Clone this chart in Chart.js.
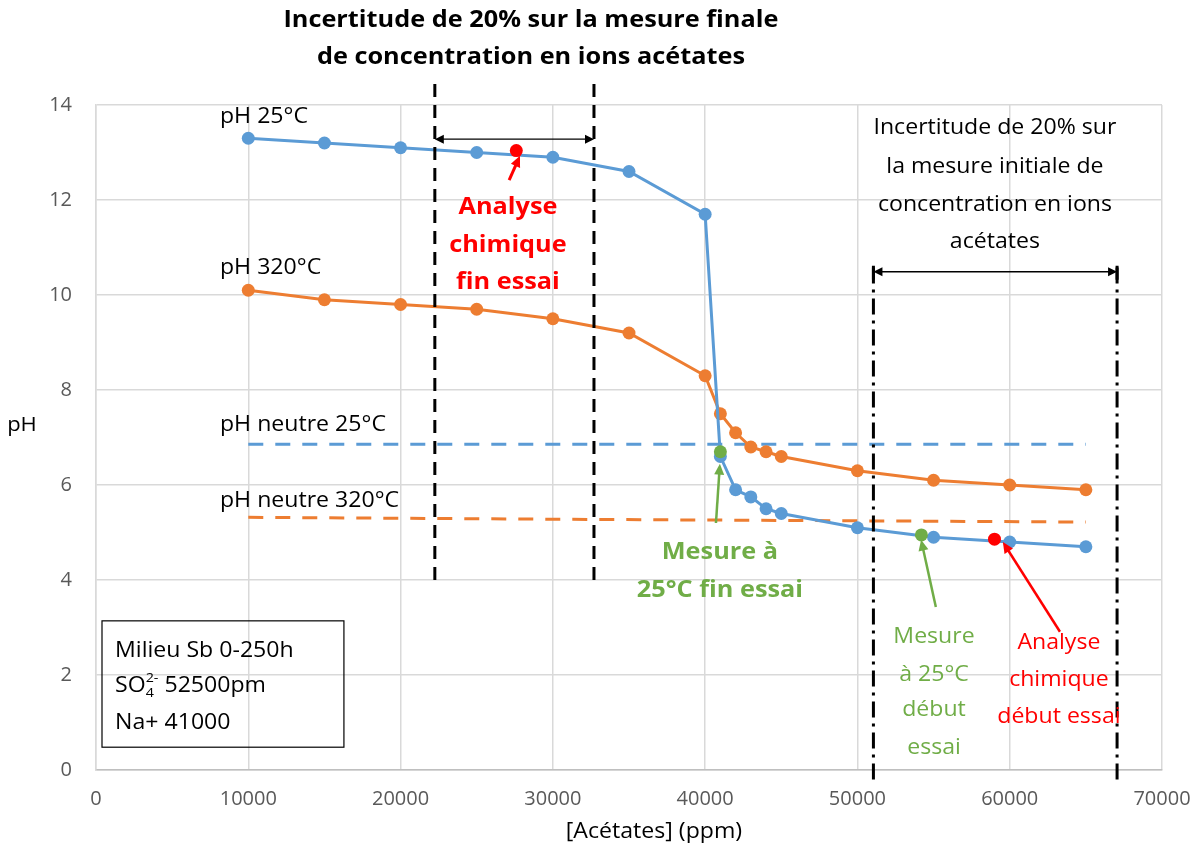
<!DOCTYPE html>
<html>
<head>
<meta charset="utf-8">
<script src="https://cdn.jsdelivr.net/npm/chart.js@4"></script>
<style>
  html, body { margin: 0; padding: 0; background: #fff; }
  #wrap { width: 1199px; height: 850px; position: relative; }
</style>
</head>
<body>
<div id="wrap"><canvas id="c" width="1199" height="850"></canvas></div>
<script>
// ---------- data ----------
const acetates = [10000, 15000, 20000, 25000, 30000, 35000, 40000, 41000, 42000, 43000, 44000, 45000, 50000, 55000, 60000, 65000];
const ph25     = [13.3, 13.2, 13.1, 13.0, 12.9, 12.6, 11.7, 6.6, 5.9, 5.75, 5.5, 5.4, 5.1, 4.9, 4.8, 4.7];
const ph320    = [10.1, 9.9, 9.8, 9.7, 9.5, 9.2, 8.3, 7.5, 7.1, 6.8, 6.7, 6.6, 6.3, 6.1, 6.0, 5.9];

const neutre25X  = [10000, 65000];
const neutre25   = [6.86, 6.86];
const neutre320X = [10000, 30000, 65000];
const neutre320  = [5.32, 5.28, 5.22];

const mesureX  = [41000, 54200];
const mesurePh = [6.7, 4.95];
const analyseX  = [27600, 59000];
const analysePh = [13.04, 4.86];

const finalBoundsX   = [22250, 32700];
const finalSpanY     = [4.0, 14.53];
const initialBoundsX = [51050, 67050];
const initialSpanY   = [-0.2, 10.7];

const xTicks = [0, 10000, 20000, 30000, 40000, 50000, 60000, 70000];
const yTicks = [0, 2, 4, 6, 8, 10, 12, 14];

// ---------- helpers ----------
const pts = (xs, ys) => xs.map((x, i) => ({x: x, y: ys[i]}));
const vlines = (xs, span) => {
  const out = [];
  xs.forEach((x, i) => {
    if (i > 0) out.push({x: x, y: null});
    out.push({x: x, y: span[0]});
    out.push({x: x, y: span[1]});
  });
  return out;
};

const FONT = "'Open Sans', 'DejaVu Sans', sans-serif";
const BLUE = '#5b9bd5', ORANGE = '#ed7d31', GREEN = '#70ad47', RED = '#ff0000';

// annotation layout (data coordinates)
const texts = [
  {t: 'Incertitude de 20% sur la mesure finale', x: 28560, y: 15.79, size: 23, bold: true, color: '#000', align: 'center'},
  {t: 'de concentration en ions acétates', x: 28560, y: 15.01, size: 23, bold: true, color: '#000', align: 'center'},
  {t: 'pH 25°C', x: 8140, y: 13.75, size: 21, color: '#000', align: 'left'},
  {t: 'pH 320°C', x: 8140, y: 10.57, size: 21, color: '#000', align: 'left'},
  {t: 'pH neutre 25°C', x: 8140, y: 7.26, size: 21, color: '#000', align: 'left'},
  {t: 'pH neutre 320°C', x: 8140, y: 5.66, size: 21, color: '#000', align: 'left'},
  {t: 'Incertitude de 20% sur', x: 59030, y: 13.52, size: 21, color: '#000', align: 'center'},
  {t: 'la mesure initiale de', x: 59030, y: 12.69, size: 21, color: '#000', align: 'center'},
  {t: 'concentration en ions', x: 59030, y: 11.89, size: 21, color: '#000', align: 'center'},
  {t: 'acétates', x: 59030, y: 11.12, size: 21, color: '#000', align: 'center'},
  {t: 'Analyse', x: 27050, y: 11.85, size: 23, bold: true, color: RED, align: 'center'},
  {t: 'chimique', x: 27050, y: 11.05, size: 23, bold: true, color: RED, align: 'center'},
  {t: 'fin essai', x: 27050, y: 10.27, size: 23, bold: true, color: RED, align: 'center'},
  {t: 'Mesure à', x: 40970, y: 4.59, size: 23, bold: true, color: GREEN, align: 'center'},
  {t: '25°C fin essai', x: 40970, y: 3.79, size: 23, bold: true, color: GREEN, align: 'center'},
  {t: 'Mesure', x: 55030, y: 2.80, size: 21, color: GREEN, align: 'center'},
  {t: 'à 25°C', x: 55030, y: 2.00, size: 21, color: GREEN, align: 'center'},
  {t: 'début', x: 55030, y: 1.26, size: 21, color: GREEN, align: 'center'},
  {t: 'essai', x: 55030, y: 0.46, size: 21, color: GREEN, align: 'center'},
  {t: 'Analyse', x: 63230, y: 2.67, size: 21, color: RED, align: 'center'},
  {t: 'chimique', x: 63230, y: 1.89, size: 21, color: RED, align: 'center'},
  {t: 'début essai', x: 63230, y: 1.12, size: 21, color: RED, align: 'center'},
  {t: 'Milieu Sb 0-250h', x: 1250, y: 2.50, size: 21, color: '#000', align: 'left'},
  {t: 'Na+ 41000', x: 1250, y: 0.99, size: 21, color: '#000', align: 'left'},
  {t: 'pH', x: -4860, y: 7.26, size: 20, color: '#000', align: 'center'},
  {t: '[Acétates] (ppm)', x: 36640, y: -1.31, size: 21, color: '#000', align: 'center'}
];
const boxCorners = {x0: 394, y0: 3.14, x1: 16280, y1: 0.48};
const pointerArrows = [
  {from: [27130, 12.42], to: [27840, 12.93], color: RED, w: 3},
  {from: [40710, 5.20], to: [40970, 6.45], color: GREEN, w: 2.5},
  {from: [55150, 3.43], to: [54180, 4.85], color: GREEN, w: 2.5},
  {from: [63300, 2.91], to: [59550, 4.80], color: RED, w: 2.5}
];
const spanArrows = [
  {x0: finalBoundsX[0], x1: finalBoundsX[1], y: 13.28, bars: false},
  {x0: initialBoundsX[0], x1: initialBoundsX[1], y: 10.49, bars: true}
];

const SX = 1.1;
function drawText(ctx, o, px, py) {
  ctx.save();
  ctx.font = (o.bold ? 'bold ' : '') + o.size + 'px ' + FONT;
  ctx.fillStyle = o.color;
  ctx.textAlign = o.align;
  ctx.textBaseline = 'middle';
  ctx.translate(px, py);
  ctx.scale(o.sx || SX, 1);
  ctx.fillText(o.t, 0, 0);
  ctx.restore();
}
function arrowHead(ctx, x0, y0, x1, y1, len, wid, color) {
  const a = Math.atan2(y1 - y0, x1 - x0);
  ctx.save();
  ctx.fillStyle = color;
  ctx.beginPath();
  ctx.moveTo(x1, y1);
  ctx.lineTo(x1 - len * Math.cos(a) + wid * Math.sin(a), y1 - len * Math.sin(a) - wid * Math.cos(a));
  ctx.lineTo(x1 - len * Math.cos(a) - wid * Math.sin(a), y1 - len * Math.sin(a) + wid * Math.cos(a));
  ctx.closePath();
  ctx.fill();
  ctx.restore();
}

const annot = {
  id: 'annot',
  afterDraw(chart) {
    const ctx = chart.ctx, xs = chart.scales.x, ys = chart.scales.y;
    const X = v => xs.getPixelForValue(v), Y = v => ys.getPixelForValue(v);
    // box
    ctx.save();
    ctx.strokeStyle = '#000'; ctx.lineWidth = 1.2;
    ctx.strokeRect(X(boxCorners.x0), Y(boxCorners.y0), X(boxCorners.x1) - X(boxCorners.x0), Y(boxCorners.y1) - Y(boxCorners.y0));
    ctx.restore();
    texts.forEach(o => drawText(ctx, o, X(o.x), Y(o.y)));
    // SO4 2- line
    {
      const px = X(1250), py = Y(1.77);
      ctx.save();
      ctx.fillStyle = '#000'; ctx.textBaseline = 'middle'; ctx.textAlign = 'left';
      ctx.translate(px, py); ctx.scale(SX, 1);
      ctx.font = '21px ' + FONT;
      ctx.fillText('SO', 0, 0);
      let w = ctx.measureText('SO').width;
      ctx.font = '13px ' + FONT;
      ctx.fillText('4', w, 7);
      ctx.fillText('2-', w, -8);
      w += ctx.measureText('2-').width;
      ctx.font = '21px ' + FONT;
      ctx.fillText(' 52500pm', w, 0);
      ctx.restore();
    }
    // pointer arrows
    pointerArrows.forEach(a => {
      const x0 = X(a.from[0]), y0 = Y(a.from[1]), x1 = X(a.to[0]), y1 = Y(a.to[1]);
      const ang = Math.atan2(y1 - y0, x1 - x0);
      ctx.save();
      ctx.strokeStyle = a.color; ctx.lineWidth = a.w;
      ctx.beginPath(); ctx.moveTo(x0, y0);
      ctx.lineTo(x1 - 8 * Math.cos(ang), y1 - 8 * Math.sin(ang)); ctx.stroke();
      ctx.restore();
      arrowHead(ctx, x0, y0, x1, y1, 11, 5, a.color);
    });
    // span arrows
    spanArrows.forEach(s => {
      const x0 = X(s.x0), x1 = X(s.x1), y = Y(s.y);
      ctx.save();
      ctx.strokeStyle = '#000'; ctx.lineWidth = 1.3;
      ctx.beginPath(); ctx.moveTo(x0 + 6, y); ctx.lineTo(x1 - 6, y); ctx.stroke();
      if (s.bars) {
        ctx.lineWidth = 3;
        ctx.beginPath(); ctx.moveTo(x0, y - 6); ctx.lineTo(x0, y + 8);
        ctx.moveTo(x1, y - 6); ctx.lineTo(x1, y + 8); ctx.stroke();
      }
      ctx.restore();
      arrowHead(ctx, x1, y, x0, y, 9, 4.5, '#000');
      arrowHead(ctx, x0, y, x1, y, 9, 4.5, '#000');
    });
  }
};

new Chart(document.getElementById('c'), {
  type: 'line',
  data: {
    datasets: [
      {label: 'pH 25°C', data: pts(acetates, ph25), borderColor: BLUE, backgroundColor: BLUE,
       borderWidth: 3, pointRadius: 6.5, pointBorderWidth: 0, pointBackgroundColor: BLUE, order: 4},
      {label: 'pH 320°C', data: pts(acetates, ph320), borderColor: ORANGE, backgroundColor: ORANGE,
       borderWidth: 3, pointRadius: 6.5, pointBorderWidth: 0, pointBackgroundColor: ORANGE, order: 5},
      {label: 'pH neutre 25°C', data: pts(neutre25X, neutre25), borderColor: BLUE, borderWidth: 3,
       borderDash: [15, 12], pointRadius: 0, order: 7},
      {label: 'pH neutre 320°C', data: pts(neutre320X, neutre320), borderColor: ORANGE, borderWidth: 3,
       borderDash: [15, 12], pointRadius: 0, order: 7},
      {label: 'Mesure', data: pts(mesureX, mesurePh), showLine: false, pointRadius: 6.5, pointBorderWidth: 0,
       pointBackgroundColor: GREEN, borderColor: GREEN, order: 1},
      {label: 'Analyse', data: pts(analyseX, analysePh), showLine: false, pointRadius: 6.5, pointBorderWidth: 0,
       pointBackgroundColor: RED, borderColor: RED, order: 1},
      {label: 'final', data: vlines(finalBoundsX, finalSpanY), borderColor: '#000', borderWidth: 3,
       borderDash: [13, 8], pointRadius: 0, spanGaps: false, clip: false, order: 2},
      {label: 'initial', data: vlines(initialBoundsX, initialSpanY), borderColor: '#000', borderWidth: 3,
       borderDash: [16, 6, 3, 6], pointRadius: 0, spanGaps: false, clip: false, order: 2}
    ]
  },
  options: {
    responsive: false,
    animation: false,
    layout: {padding: {top: 105, right: 37, bottom: 0, left: 0}},
    plugins: {legend: {display: false}, tooltip: {enabled: false}, title: {display: false}},
    elements: {line: {tension: 0}},
    scales: {
      x: {
        type: 'linear', min: 0, max: 70000,
        afterBuildTicks: s => { s.ticks = xTicks.map(v => ({value: v})); },
        afterFit: s => { s.height = 80; s.paddingLeft = 0; s.paddingRight = 0; },
        grid: {color: '#d9d9d9', lineWidth: 1.5, drawTicks: false},
        border: {color: '#bfbfbf', width: 1.5},
        ticks: {color: '#595959', font: {family: FONT, size: 20}, padding: 17, callback: v => String(v), maxRotation: 0}
      },
      y: {
        type: 'linear', min: 0, max: 14,
        afterBuildTicks: s => { s.ticks = yTicks.map(v => ({value: v})); },
        afterFit: s => { s.width = 96; s.paddingTop = 0; s.paddingBottom = 0; },
        grid: {color: '#d9d9d9', lineWidth: 1.5, drawTicks: false},
        border: {color: '#d9d9d9', width: 1.5},
        ticks: {color: '#595959', font: {family: FONT, size: 20}, padding: 24, callback: v => String(v)}
      }
    }
  },
  plugins: [annot]
});
</script>
</body>
</html>
